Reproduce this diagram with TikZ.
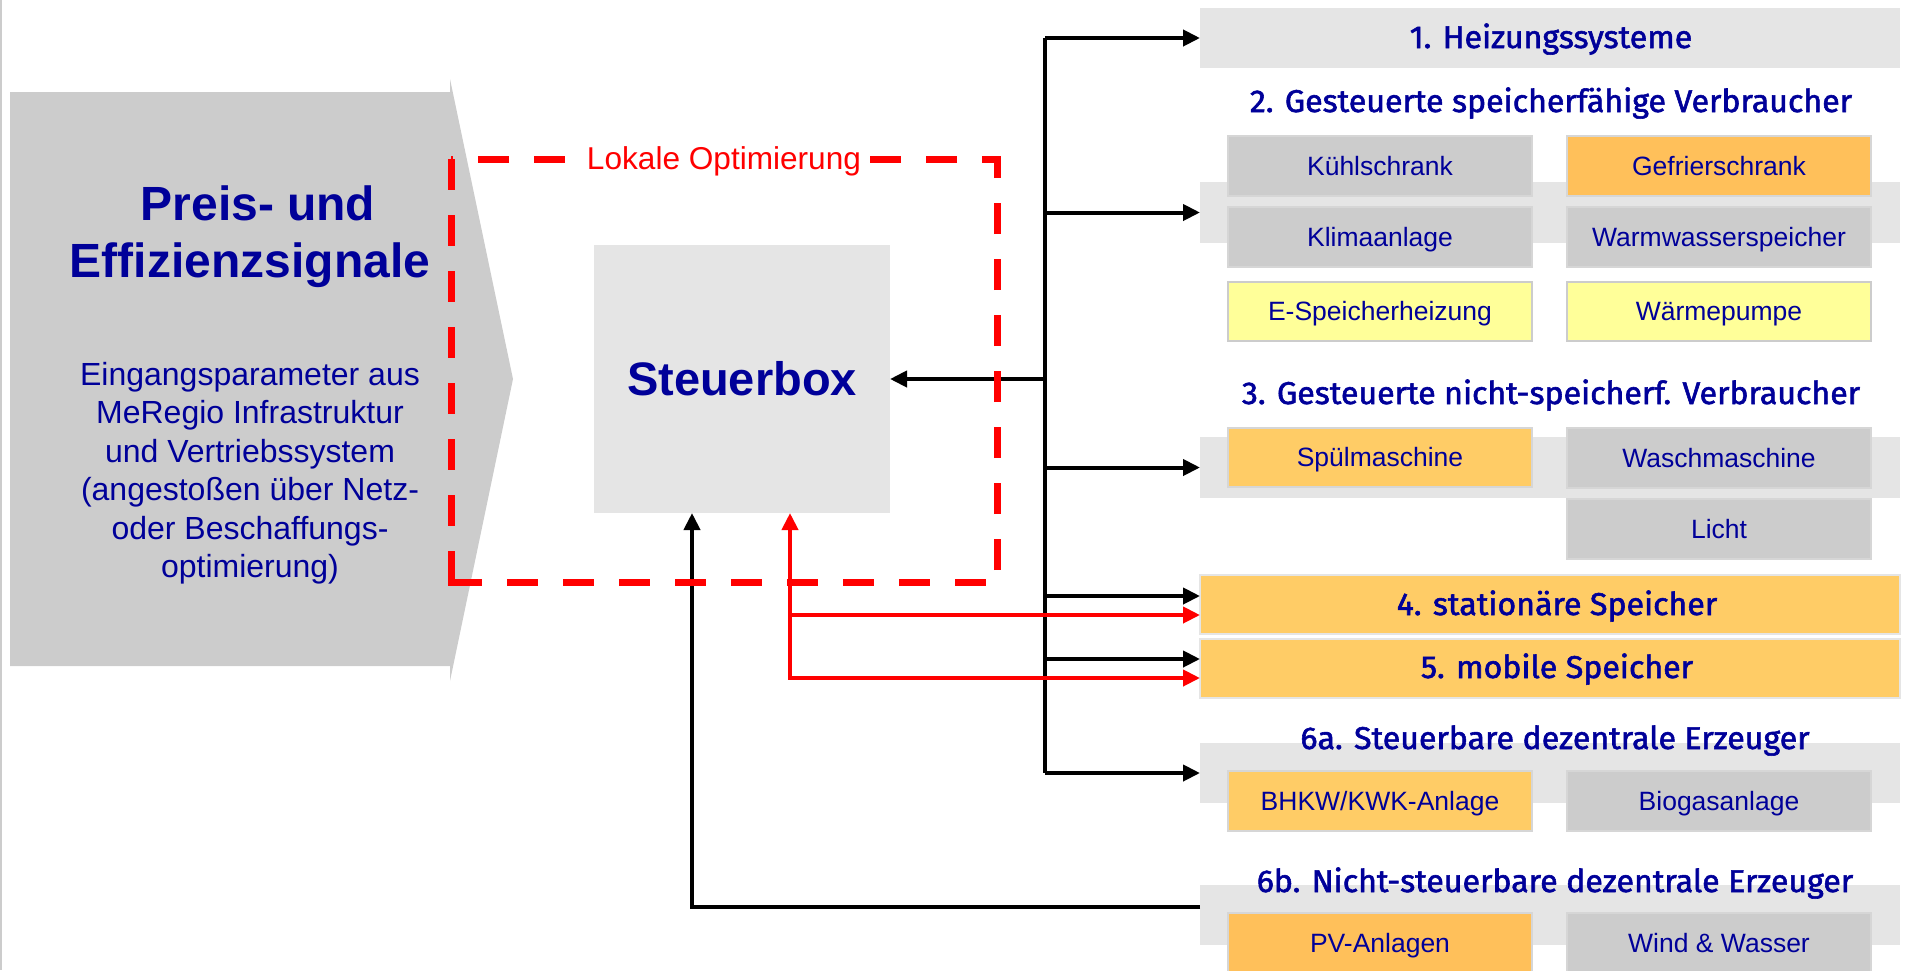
\documentclass[tikz,border=0pt]{standalone}
\usepackage{fontspec}
\setmainfont{Liberation Sans}
\newfontfamily\dinfont[FakeBold=1.8,FakeStretch=1.02]{Fira Sans}
\usetikzlibrary{arrows.meta}
\definecolor{navy}{RGB}{0,0,153}
\definecolor{lgray}{RGB}{229,229,229}
\definecolor{mgray}{RGB}{204,204,204}
\definecolor{bgray}{RGB}{214,214,214}
\definecolor{orangeA}{RGB}{255,204,102}
\definecolor{orangeB}{RGB}{255,192,90}
\definecolor{yel}{RGB}{255,255,153}
\tikzset{
  band/.style={fill=lgray, draw=none, inner sep=0pt, outer sep=0pt, minimum width=700pt},
  item/.style={minimum width=304pt, minimum height=60pt, inner sep=0pt, outer sep=0pt,
    font=\fontsize{26.5}{30}\selectfont, text=navy, line width=1.5pt, text height=22pt, text depth=4pt},
  grayitem/.style={item, fill=mgray, draw=bgray},
  oritem/.style={item, fill=orangeA, draw=bgray},
  or2item/.style={item, fill=orangeB, draw=bgray},
  yelitem/.style={item, fill=yel, draw=mgray, line width=2pt},
  head/.style={font=\dinfont\fontsize{31.5}{36}\selectfont, text=navy, inner sep=0pt, anchor=base},
  bigbox/.style={minimum width=700pt, minimum height=59pt, inner sep=0pt, outer sep=0pt,
    fill=orangeA, draw=lgray, line width=2.5pt},
  conn/.style={line width=4pt, draw=black},
  redconn/.style={line width=4pt, draw=red},
  frame/.style={draw=red, line width=7pt},
  titlef/.style={font=\bfseries\fontsize{48}{58}\selectfont, text=navy, inner sep=0pt, anchor=base},
  para/.style={font=\fontsize{32}{39}\selectfont, text=navy, inner sep=0pt, anchor=base},
}
\begin{document}
\begin{tikzpicture}[x=1pt,y=-1pt, >={Triangle[length=17pt,width=16pt]}]
\useasboundingbox (0,0) rectangle (1906,970);
\clip (0,0) rectangle (1906,970);

% left border line
\draw[draw=mgray, line width=2pt] (1,0) -- (1,970);

% signal arrow
\fill[mgray] (10,92) -- (450,92) -- (450,79) -- (513,379) -- (450,681) -- (450,666) -- (10,666) -- cycle;
\node[titlef] (preis) at (258,220) {Preis- und};
\node[titlef] (effiz) at (250,277) {Effizienzsignale};
\foreach \t [count=\i] in {{Eingangsparameter aus},{MeRegio Infrastruktur},{und Vertriebssystem},{(angestoßen über Netz-},{oder Beschaffungs-},{optimierung)}}
  \node[para] (eing\i) at (250,{385+38.5*(\i-1)}) {\t};

% Steuerbox
\node[fill=lgray, minimum width=296pt, minimum height=268pt, inner sep=0pt, outer sep=0pt,
  font=\bfseries\fontsize{47}{56}\selectfont, text=navy] (steuer) at (742,379) {Steuerbox};

% right side bands
\node[band, minimum height=60pt] (h1) at (1550,38) {};
\node[band, minimum height=61pt] (b2) at (1550,212.5) {};
\node[band, minimum height=61pt] (b3) at (1550,467.5) {};
\node[band, minimum height=60pt] (b6a) at (1550,773) {};
\node[band, minimum height=60pt] (b6b) at (1550,915) {};
\node[bigbox] (box4) at (1550,604.5) {};
\node[bigbox] (box5) at (1550,668.5) {};

% items
\node[grayitem] (kuehl) at (1380,166) {Kühlschrank};
\node[or2item] (gefrier) at (1719,166) {Gefrierschrank};
\node[grayitem] (klima) at (1380,237) {Klimaanlage};
\node[grayitem] (warm) at (1719,237) {Warmwasserspeicher};
\node[yelitem, minimum height=59pt] (espeich) at (1380,311.5) {E-Speicherheizung};
\node[yelitem, minimum height=59pt] (waerme) at (1719,311.5) {Wärmepumpe};
\node[oritem, minimum height=59pt] (spuel) at (1380,457.5) {Spülmaschine};
\node[grayitem] (wasch) at (1719,458) {Waschmaschine};
\node[grayitem] (licht) at (1719,529) {Licht};
\node[oritem] (bhkw) at (1380,801) {BHKW/KWK-Anlage};
\node[grayitem] (biogas) at (1719,801) {Biogasanlage};
\node[or2item] (pv) at (1380,943) {PV-Anlagen};
\node[grayitem] (wind) at (1719,943) {Wind \& Wasser};

% headings
\node[head] (t1) at (1551,48) {1. Heizungssysteme};
\node[head] (t2) at (1551,112) {2. Gesteuerte speicherfähige Verbraucher};
\node[head] (t3) at (1551,404) {3. Gesteuerte nicht-speicherf. Verbraucher};
\node[head] (t4) at (1557,615) {4. stationäre Speicher};
\node[head] (t5) at (1557,678) {5. mobile Speicher};
\node[head] (t6a) at (1555,749) {6a. Steuerbare dezentrale Erzeuger};
\node[head] (t6b) at (1555,892) {6b. Nicht-steuerbare dezentrale Erzeuger};

% black connectors
\coordinate (bustop) at (1045,38);
\coordinate (busbot) at (1045,773);
\draw[conn] (bustop) -- (busbot);
\draw[conn,->] (bustop) -- (h1.west);
\draw[conn,->] (b2.west -| bustop) -- (b2.west);
\draw[conn,->] (steuer.east -| bustop) -- (steuer.east);
\draw[conn,->] (b3.west -| bustop) -- (b3.west);
\coordinate (b4k) at ([yshift=8.5pt]box4.west);
\draw[conn,->] (b4k -| bustop) -- (b4k);
\coordinate (b5k) at ([yshift=9.5pt]box5.west);
\draw[conn,->] (b5k -| bustop) -- (b5k);
\draw[conn,->] (busbot) -- (b6a.west);
\coordinate (b6l) at ([yshift=8pt]b6b.west);
\coordinate (blk) at ([xshift=-50pt]steuer.south);
\draw[conn,->] (b6l) -| (blk);

% red connectors
\coordinate (redx) at ([xshift=48pt]steuer.south);
\coordinate (b4r) at ([yshift=-10.5pt]box4.west);
\coordinate (b5r) at ([yshift=-9.5pt]box5.west);
\draw[redconn,<->] (redx) |- (b5r);
\draw[redconn,->] (redx |- b4r) -- (b4r);

% local optimisation frame
\coordinate (ftl) at (451,159);
\coordinate (fbl) at (451,582);
\coordinate (fbr) at (997,582);
\coordinate (fbr2) at (997,570);
\coordinate (ftr) at (997,159);
\draw[frame, dash pattern=on 31pt off 25pt] (ftl) -- (fbl);
\draw[frame, dash pattern=on 31pt off 25pt] (fbl) -- (fbr);
\draw[frame, dash pattern=on 31pt off 25pt] (fbr2) -- (ftr);
\draw[frame, dash pattern=on 31pt off 25pt, dash phase=16pt] (ftr) -- (ftl);
\fill[red] (447.5,578.5) rectangle (451,585.5);
\fill[red] (997,155.5) rectangle (1000.5,162.5);
\node[fill=white, text=red, font=\fontsize{31.6}{38}\selectfont, inner xsep=8pt, inner ysep=2pt] (lokal) at (724,161) {Lokale Optimierung};
\end{tikzpicture}
\end{document}
